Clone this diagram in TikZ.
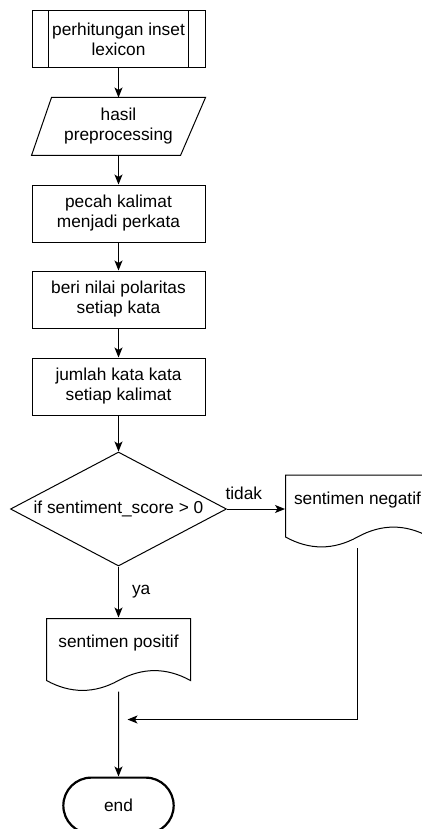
\documentclass[tikz,border=0pt]{standalone}
\usepackage{fontspec}
\setmainfont{Liberation Sans}
\usetikzlibrary{positioning,shapes.geometric,shapes.misc,arrows.meta}

\begin{document}
\begin{tikzpicture}[
		x=1pt, y=1pt
		,font=\fontsize{17.3}{20}\selectfont
		,line width=1pt
		,box/.style={draw, rectangle, align=center, minimum width=173pt, minimum height=57pt, inner sep=0pt}
		,io/.style={rectangle, align=center, minimum width=173pt, minimum height=57pt, inner sep=0pt}
		,decision/.style={draw, diamond, aspect=1.9, minimum width=216pt, minimum height=114pt, inner sep=0pt}
		,doc/.style={rectangle, minimum width=144pt, minimum height=51pt, inner sep=0pt}
		,term/.style={draw, rounded rectangle, line width=2.2pt, minimum width=117pt, minimum height=56pt}
		,flow/.style={-{Stealth[length=10pt, width=8pt, inset=2.5pt]}}
		,lbl/.style={inner sep=0pt}
	]
		\useasboundingbox (0,0) rectangle (421,-829);

		\node[box] (inset) at (118.5,-39.5) {perhitungan inset\\lexicon};
		\node[io, below=29pt of inset] (input) {hasil\\preprocessing};
		\node[box, below=29pt of input] (split) {pecah kalimat\\menjadi perkata};
		\node[box, below=28pt of split] (polar) {beri nilai polaritas\\setiap kata};
		\node[box, below=29pt of polar] (sum) {jumlah kata kata\\setiap kalimat};
		\node[decision, below=36pt of sum] (score) {if sentiment\_score > 0};
		\node[doc, below=51pt of score] (pos) {sentimen positif};
		\node[doc, right=58pt of score, yshift=9pt] (neg) {sentimen negatif};
		\node[term, below=107pt of pos] (stop) {end};

		% sisi dalam proses lexicon
		\draw ([xshift=17pt]inset.north west) -- ([xshift=17pt]inset.south west);
		\draw ([xshift=-17pt]inset.north east) -- ([xshift=-17pt]inset.south east);

		% jajar genjang input
		\draw ([xshift=20pt]input.north west) -- (input.north east)
			-- ([xshift=-25pt]input.south east) -- (input.south west) -- cycle;

		% bentuk dokumen
		\foreach \d in {pos,neg}
			\draw[shift={(\d.south)}] (-72,-11) -- (-72,51) -- (72,51) -- (72,-11)
				.. controls (48,2.2) and (24,2.2) .. (0,-11)
				.. controls (-24,-24.2) and (-48,-24.2) .. (-72,-11) -- cycle;

		\coordinate (pos-out) at ([yshift=-22pt]pos.south);
		\coordinate (neg-out) at ([yshift=-22pt]neg.south);
		\coordinate (join) at ([xshift=9pt, yshift=-50pt]pos.south);

		\draw[flow] (inset) -- (input);
		\draw[flow] (input) -- (split);
		\draw[flow] (split) -- (polar);
		\draw[flow] (polar) -- (sum);
		\draw[flow] (sum) -- (score);
		\draw[flow] (score) -- node[lbl, anchor=west, xshift=13pt] {ya} (pos);
		\draw[flow] (score.east) -- node[lbl, pos=0, anchor=base west, xshift=-2pt, yshift=10pt] {tidak} (score.east -| neg.west);
		\draw[flow] (pos-out) -- (stop);
		\draw[flow] (neg-out) |- (join);
	\end{tikzpicture}
\end{document}
